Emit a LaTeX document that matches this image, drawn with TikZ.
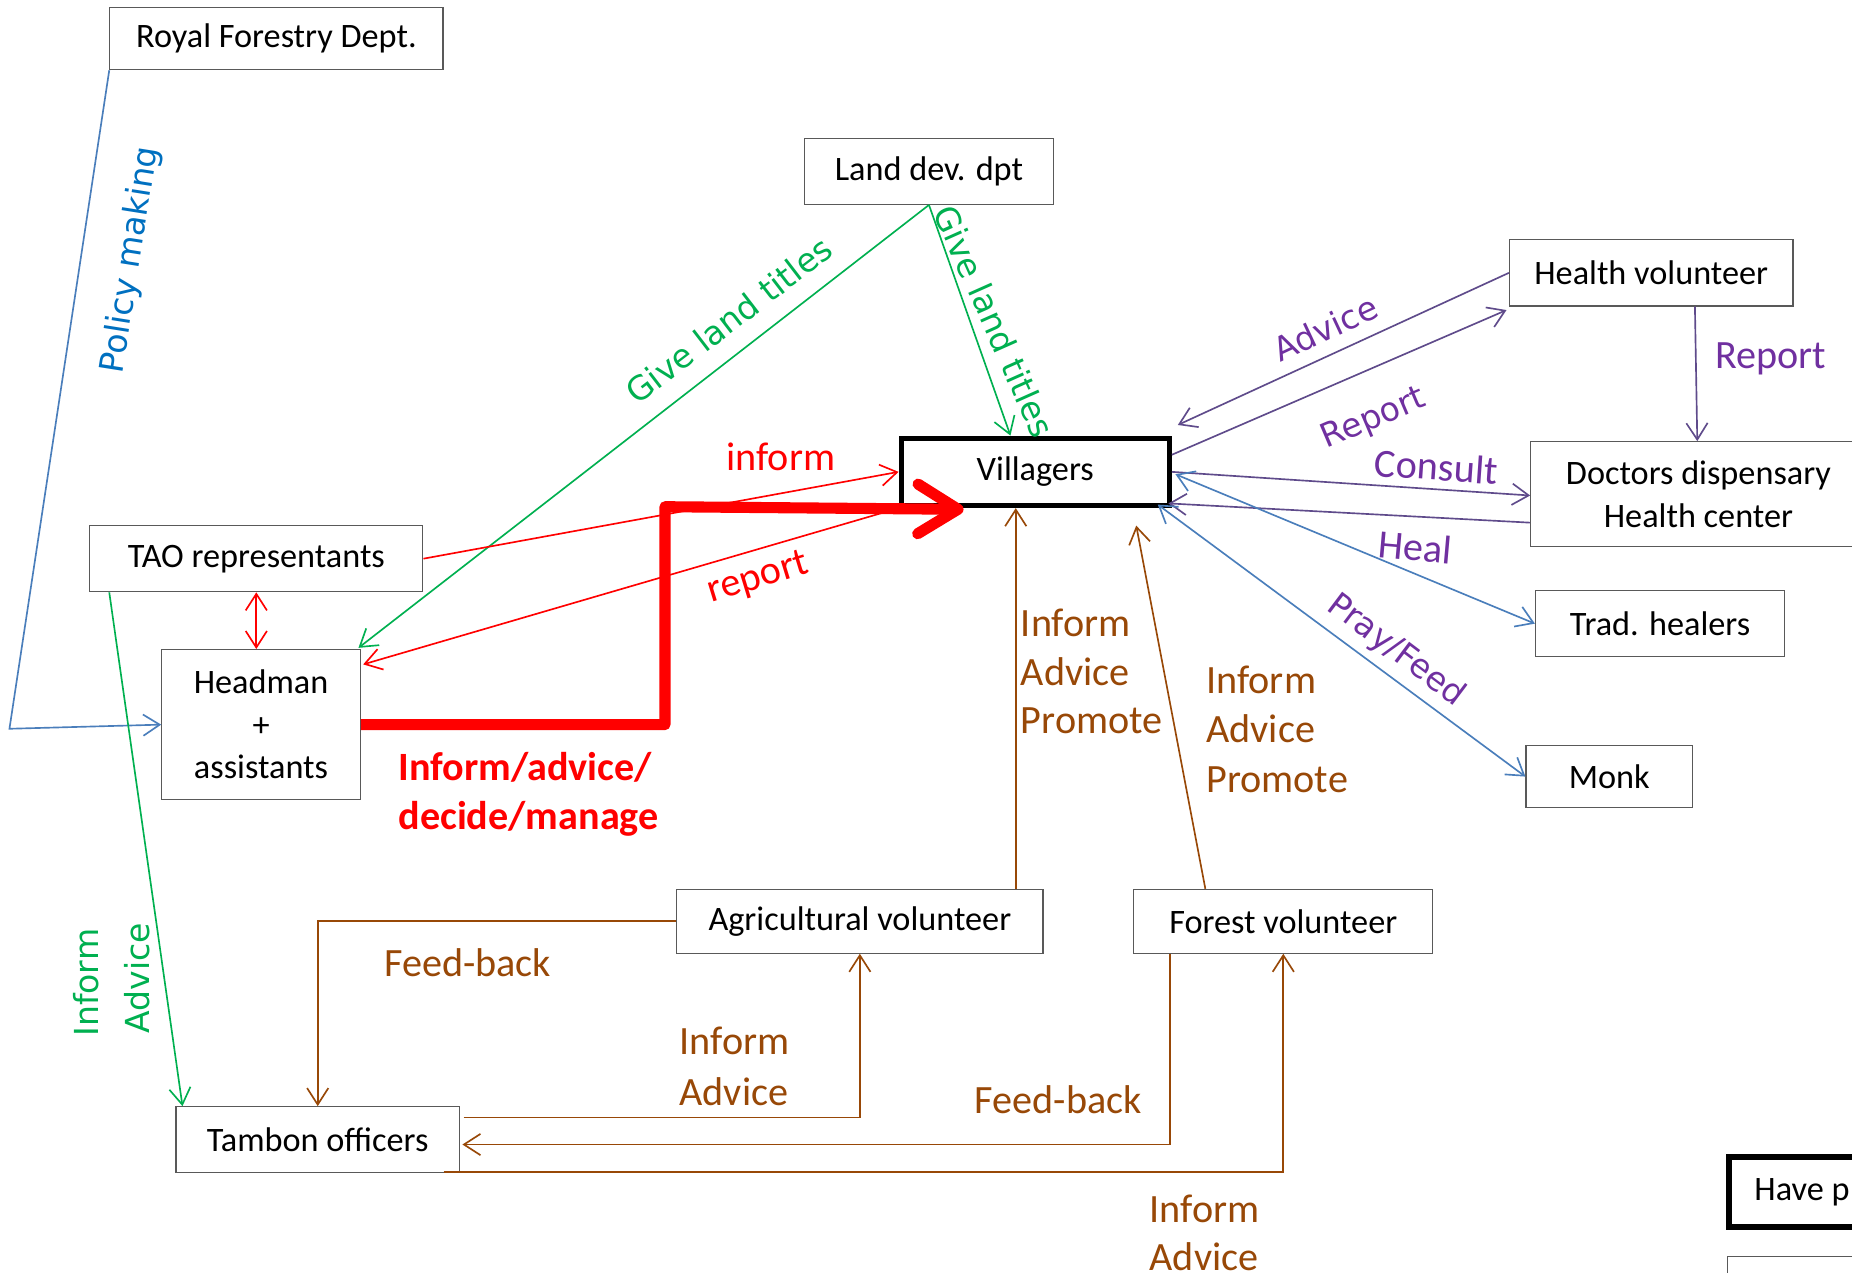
\documentclass[tikz,border=0pt]{standalone}
\usepackage{fontspec}
\setmainfont{Carlito}
\newfontfamily\verd{DejaVu Sans}
\usetikzlibrary{arrows.meta,calc}

\definecolor{bxline}{HTML}{595959}
\definecolor{blueline}{HTML}{4A7EBB}
\definecolor{bluetext}{HTML}{0070C0}
\definecolor{grn}{HTML}{00B050}
\definecolor{redc}{HTML}{FF0000}
\definecolor{purpline}{HTML}{5F4B8B}
\definecolor{purptext}{HTML}{7030A0}
\definecolor{brn}{HTML}{984807}

\begin{document}
\begin{tikzpicture}[x=0.5pt,y=0.5pt,
  box/.style={draw=bxline, line width=0.5pt, rectangle, inner sep=0pt,
    font=\fontsize{14.5}{18}\selectfont, align=center},
  thickbox/.style={box, draw=black, line width=2.2pt},
  tip/.tip={Straight Barb[length=7pt,width=9pt]},
  conn/.style={line width=0.7pt, -tip},
  both/.style={line width=0.7pt, tip-tip},
  lbl/.style={font=\fontsize{17}{20}\selectfont, inner sep=0pt},
  blbl/.style={font=\bfseries\fontsize{17}{20}\selectfont, inner sep=0pt},
  vlbl/.style={font=\verd\fontsize{14}{17}\selectfont, inner sep=0pt},
]
\useasboundingbox (0,0) rectangle (1568,-1077);
\fill[white] (0,0) rectangle (1568,-1077);
\clip (0,0) rectangle (1568,-1077);

% ---------- boxes ----------
\node[box, minimum width=141pt, minimum height=26.5pt] (rfd) at (234,-32.5) {Royal Forestry Dept.};
\node[box, minimum width=105.5pt, minimum height=28pt] (land) at (786.5,-145) {Land dev. dpt};
\node[box, minimum width=120pt, minimum height=28pt] (hv) at (1398,-231) {Health volunteer};
\node[box, minimum width=142pt, minimum height=44.5pt] (doc) at (1438,-418.5) {Doctors dispensary\\Health center};
\node[thickbox, minimum width=113.5pt, minimum height=28.5pt] (vil) at (876.5,-399.5) {Villagers};
\node[box, minimum width=141pt, minimum height=28pt] (tao) at (217,-473) {TAO representants};
\node[box, minimum width=84pt, minimum height=63.5pt] (head) at (221,-613.5) {Headman\\+\\assistants};
\node[box, minimum width=105.5pt, minimum height=28pt] (trad) at (1405.5,-528) {Trad. healers};
\node[box, minimum width=70.5pt, minimum height=26.5pt] (monk) at (1362.5,-657.5) {Monk};
\node[box, minimum width=155pt, minimum height=27pt] (agri) at (728,-780) {Agricultural volunteer};
\node[box, minimum width=126.5pt, minimum height=27pt] (forest) at (1086.5,-780) {Forest volunteer};
\node[box, minimum width=120pt, minimum height=28pt] (tambon) at (269,-965) {Tambon officers};
\node[thickbox, line width=2.5pt, minimum width=80pt, minimum height=29.5pt, anchor=north west] (have) at (1461,-977) {};
\node[font=\fontsize{14.5}{18}\selectfont, anchor=base west, inner sep=0pt] (havet) at (1485,-1016) {Have p};
\node[box, minimum width=80pt, minimum height=30pt, anchor=north west] (nextbox) at (1462,-1063) {};

% ---------- Royal Forestry Dept. ----------
\coordinate (pcorner) at (8,-617);
\draw[blueline, conn] (rfd.south west) -- (pcorner) -- (head.west);
\node[vlbl, text=bluetext, rotate=81] at (111,-220) {Policy making};

% ---------- Land development ----------
\draw[grn, conn] (land.south) -- ($(head.north east)+(-2,1)$);
\draw[grn, conn] (land.south) -- ($(vil.north)+(-21,0)$);
\node[vlbl, text=grn, rotate=37.5] at (617,-271) {Give land titles};
\node[vlbl, text=grn, rotate=-66] at (842,-272) {Give land titles};

% ---------- Headman, TAO and villagers ----------
\draw[redc, conn] (tao.east) -- (vil.west);
\node[lbl, text=redc, anchor=base] at (661,-398) {inform};
\draw[redc, conn] (vil.south west) -- ($(head.north east)+(2,-13)$);
\node[font=\fontsize{17}{20}\selectfont, inner sep=0pt, text=redc, rotate=17] at (642,-490) {report};
\draw[redc, both] (tao.south) -- (tao.south |- head.north);
\draw[redc, line width=4.7pt, line join=round,
      -{Straight Barb[length=17pt,width=21pt,line cap=round,line join=round]}]
  (head.east) -- (563,-613.5) -- (563,-429) -- ($(vil.south west)+(55,-1)$);
\node[blbl, text=redc, anchor=base west] at (337,-661) {Inform/advice/};
\node[blbl, text=redc, anchor=base west] at (337,-702) {decide/manage};

% ---------- TAO to Tambon ----------
\draw[grn, conn] ($(tao.south west)+(17,0)$) -- ($(tambon.north west)+(6,0)$);
\node[vlbl, text=grn, rotate=90] at (73,-832) {Inform};
\node[vlbl, text=grn, rotate=90] at (116,-828) {Advice};

% ---------- Health ----------
\draw[purpline, conn] (hv.west) -- ($(vil.north east)+(5,9)$);
\node[vlbl, text=purptext, rotate=25] at (1122,-278) {Advice};
\draw[purpline, conn] ($(vil.east)+(0,14.5)$) -- ($(hv.south west)+(-2,-3)$);
\node[vlbl, text=purptext, rotate=23] at (1163,-355) {Report};
\draw[purpline, conn] ($(hv.south)+(37,0)$) -- ($(doc.north)+(-1,0)$);
\node[lbl, text=purptext, anchor=base west] at (1452,-312) {Report};
\draw[purpline, conn] (vil.east) -- ($(doc.west)+(0,-1)$);
\node[lbl, text=purptext, rotate=-4] at (1216,-395) {Consult};
\draw[purpline, conn] ($(doc.west)+(0,-24)$) -- ($(vil.south east)+(-3,4)$);
\draw[blueline, both] ($(vil.east)+(3,-2)$) -- (trad.west);
\node[lbl, text=purptext, rotate=-5] at (1198,-463) {Heal};
\draw[blueline, both] ($(vil.south east)+(-12,3)$) -- (monk.west);
\node[vlbl, text=purptext, rotate=-37] at (1182,-551) {Pray/Feed};

% ---------- Volunteers ----------
\coordinate (avx) at ($(agri.north)+(132,0)$);
\draw[brn, conn] (avx) -- (avx |- vil.south);
\node[lbl, text=brn, anchor=base west] at (864,-539) {Inform};
\node[lbl, text=brn, anchor=base west] at (864,-580) {Advice};
\node[lbl, text=brn, anchor=base west] at (864,-621) {Promote};
\coordinate (fvtip) at (962,-445);
\draw[brn, conn] ($(forest.north)+(-66,0)$) -- (fvtip);
\node[lbl, text=brn, anchor=base west] at (1021,-587) {Inform};
\node[lbl, text=brn, anchor=base west] at (1021,-629) {Advice};
\node[lbl, text=brn, anchor=base west] at (1021,-671) {Promote};

% ---------- Tambon officers loops ----------
\draw[brn, conn] (agri.west) -| (tambon.north);
\node[lbl, text=brn, anchor=base west] at (325,-827) {Feed-back};
\draw[brn, conn] ($(tambon.east)+(3,19)$) -| (agri.south);
\node[lbl, text=brn, anchor=base west] at (575,-893) {Inform};
\node[lbl, text=brn, anchor=base west] at (575,-936) {Advice};
\draw[brn, conn] ($(forest.south west)+(31,0)$) |- ($(tambon.east)+(2,-4)$);
\node[lbl, text=brn, anchor=base west] at (825,-943) {Feed-back};
\draw[brn, conn] ($(tambon.south east)+(-14,1)$) -| (forest.south);
\node[lbl, text=brn, anchor=base west] at (973,-1035) {Inform};
\node[lbl, text=brn, anchor=base west] at (973,-1076) {Advice};
\end{tikzpicture}
\end{document}
